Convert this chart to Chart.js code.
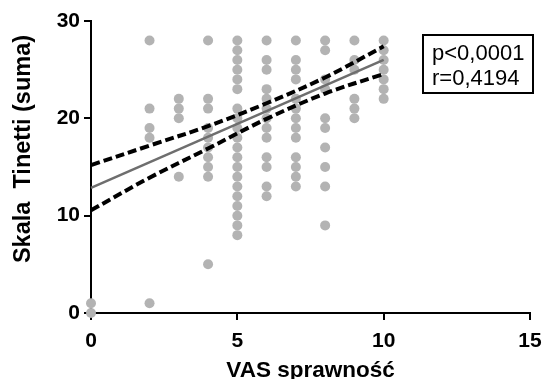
<!DOCTYPE html>
<html>
<head>
<meta charset="utf-8">
<script src="https://cdn.jsdelivr.net/npm/chart.js@4/dist/chart.umd.min.js"></script>
<style>
  html, body { margin: 0; padding: 0; background: #fff; }
  #wrap { width: 543px; height: 379px; position: relative; }
</style>
</head>
<body>
<div id="wrap"><canvas id="c" width="543" height="379"></canvas></div>
<script>
// ---- Data ----
const xTitle = 'VAS sprawność';
const yTitle = 'Skala  Tinetti (suma)';
const statLines = ['p<0,0001', 'r=0,4194'];
const xTicks = [0, 5, 10, 15];
const yTicks = [0, 10, 20, 30];

// VAS values (x) and the Tinetti scores observed at each VAS value (y)
const vasValues = [0, 2, 3, 4, 5, 6, 7, 8, 9, 10];
const tinettiAtVas0 = [0, 1];
const tinettiAtVas2 = [28, 21, 19, 18, 1];
const tinettiAtVas3 = [22, 21, 20, 14];
const tinettiAtVas4 = [28, 22, 21, 19, 18, 17, 16, 15, 14, 5];
const tinettiAtVas5 = [28, 27, 26, 25, 24, 23, 21, 20, 19, 18, 17, 16, 15, 14, 13, 12, 11, 10, 9, 8];
const tinettiAtVas6 = [28, 26, 25, 23, 22, 21, 20, 19, 18, 16, 15, 13, 12];
const tinettiAtVas7 = [28, 26, 25, 24, 22, 21, 20, 19, 18, 16, 15, 14, 13];
const tinettiAtVas8 = [28, 27, 24, 23, 20, 19, 17, 15, 13, 9];
const tinettiAtVas9 = [28, 26, 25, 22, 21, 20];
const tinettiAtVas10 = [28, 27, 26, 25, 24, 23, 22];
const tinettiColumns = [tinettiAtVas0, tinettiAtVas2, tinettiAtVas3, tinettiAtVas4, tinettiAtVas5,
                        tinettiAtVas6, tinettiAtVas7, tinettiAtVas8, tinettiAtVas9, tinettiAtVas10];

// regression line
const fitX = [0, 10];
const fitY = [12.85, 26.0];
// 95% confidence band
const bandX = [0, 2, 4, 6, 8, 10];
const bandUpper = [15.2, 17.2, 19.2, 21.55, 24.2, 27.4];
const bandLower = [10.55, 13.9, 16.9, 19.95, 22.55, 24.55];

// ---- Build datasets ----
const scatterPts = [];
vasValues.forEach((v, i) => tinettiColumns[i].forEach(t => scatterPts.push({x: v, y: t})));
const toXY = (xs, ys) => xs.map((x, i) => ({x: x, y: ys[i]}));

const FONT = '"Liberation Sans", Arial, Helvetica, sans-serif';

const overlay = {
  id: 'overlay',
  afterDraw(chart) {
    const ctx = chart.ctx;
    const area = chart.chartArea;
    ctx.save();
    ctx.fillStyle = '#000';
    // x axis title
    ctx.font = 'bold 22.5px ' + FONT;
    ctx.textAlign = 'center';
    ctx.textBaseline = 'alphabetic';
    ctx.fillText(xTitle, (area.left + area.right) / 2, 377);
    // y axis title
    ctx.save();
    ctx.font = 'bold 23.5px ' + FONT;
    ctx.translate(30, 149);
    ctx.rotate(-Math.PI / 2);
    ctx.fillText(yTitle, 0, 0);
    ctx.restore();
    // stats box
    ctx.lineWidth = 2;
    ctx.strokeStyle = '#000';
    ctx.strokeRect(423, 35, 110, 58);
    ctx.font = '22px ' + FONT;
    ctx.textAlign = 'left';
    ctx.textBaseline = 'middle';
    ctx.fillText(statLines[0], 432, 54);
    ctx.fillText(statLines[1], 432, 79);
    ctx.restore();
  }
};

new Chart(document.getElementById('c'), {
  type: 'scatter',
  data: {
    datasets: [
      {
        label: 'upper',
        type: 'line',
        data: toXY(bandX, bandUpper),
        borderColor: '#000',
        borderWidth: 4,
        borderDash: [9, 4],
        pointRadius: 0,
        fill: false,
        tension: 0.35,
        clip: false,
        order: 1
      },
      {
        label: 'lower',
        type: 'line',
        data: toXY(bandX, bandLower),
        borderColor: '#000',
        borderWidth: 4,
        borderDash: [9, 4],
        pointRadius: 0,
        fill: false,
        tension: 0.35,
        clip: false,
        order: 1
      },
      {
        label: 'fit',
        type: 'line',
        data: toXY(fitX, fitY),
        borderColor: '#6e6e6e',
        borderWidth: 2.5,
        pointRadius: 0,
        fill: false,
        clip: false,
        order: 2
      },
      {
        label: 'data',
        data: scatterPts,
        backgroundColor: '#b3b3b3',
        borderWidth: 0,
        pointRadius: 5,
        clip: false,
        order: 3
      }
    ]
  },
  options: {
    responsive: false,
    animation: false,
    events: [],
    layout: { padding: { left: 0, right: 13, top: 21, bottom: 0 } },
    plugins: { legend: { display: false }, tooltip: { enabled: false } },
    scales: {
      x: {
        type: 'linear',
        min: 0, max: 15,
        afterBuildTicks: s => { s.ticks = xTicks.map(v => ({value: v})); },
        afterFit: s => { s.height = 66; s.paddingLeft = 0; s.paddingRight = 0; },
        grid: { display: true, drawOnChartArea: false, drawTicks: true, tickLength: 7, color: '#000', lineWidth: 2 },
        border: { display: true, color: '#000', width: 2 },
        ticks: { color: '#000', padding: 9, font: { family: FONT, size: 21, weight: 'bold' } }
      },
      y: {
        type: 'linear',
        min: 0, max: 30,
        afterBuildTicks: s => { s.ticks = yTicks.map(v => ({value: v})); },
        afterFit: s => { s.width = 91; s.paddingTop = 0; s.paddingBottom = 0; },
        grid: { display: true, drawOnChartArea: false, drawTicks: true, tickLength: 7, color: '#000', lineWidth: 2 },
        border: { display: true, color: '#000', width: 2 },
        ticks: { color: '#000', padding: 4, font: { family: FONT, size: 21, weight: 'bold' } }
      }
    }
  },
  plugins: [overlay]
});
</script>
</body>
</html>
